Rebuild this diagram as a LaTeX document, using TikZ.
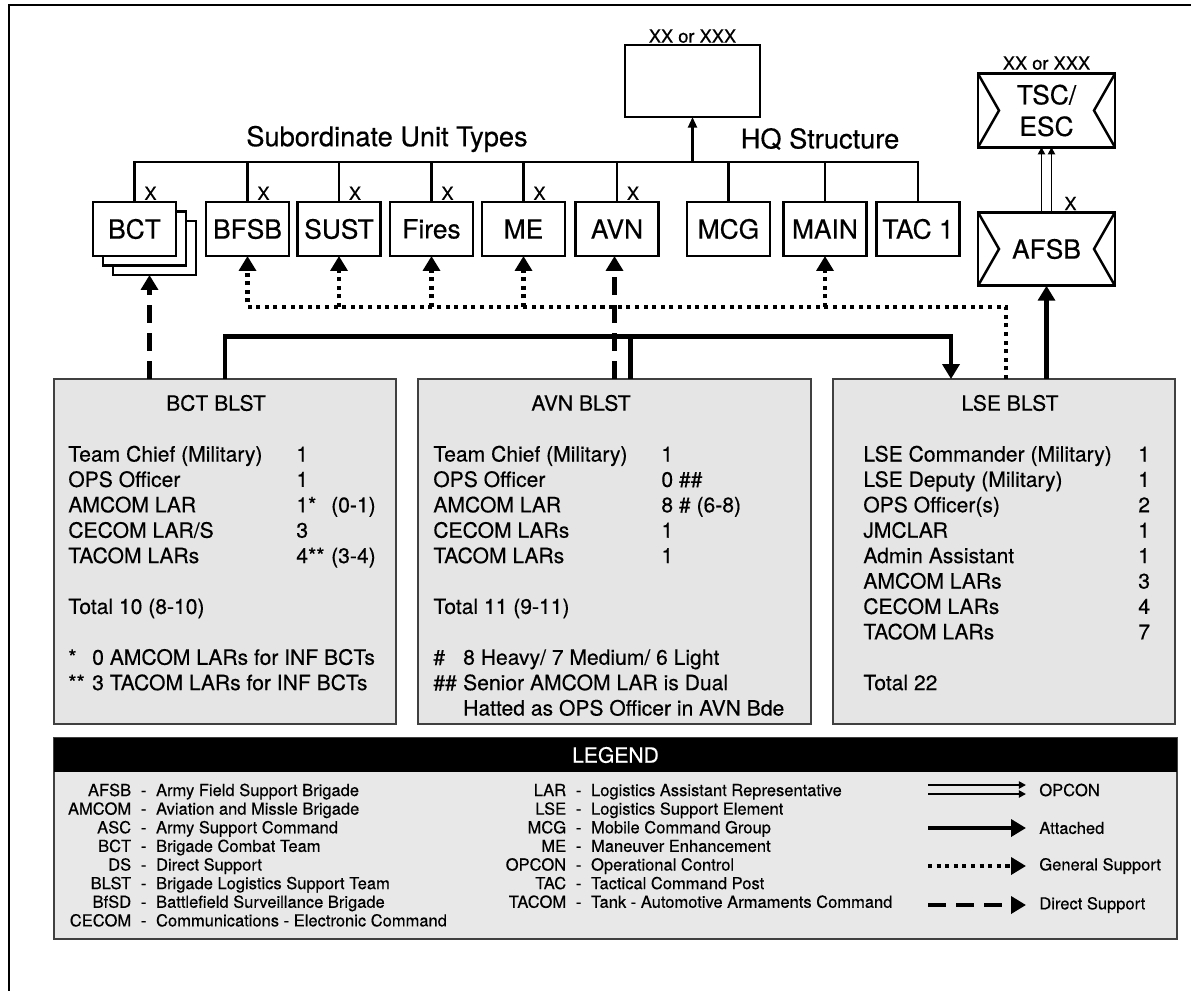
\documentclass[tikz,border=0pt]{standalone}
\usepackage{fontspec}
\setmainfont{TeX Gyre Heros}[FakeBold=0.4]
\usetikzlibrary{arrows.meta}

\newcommand{\legrow}[2]{\makebox[40.3pt][r]{#1}\makebox[14.2pt][c]{-}#2}

\begin{document}
\begin{tikzpicture}[x=0.02cm,y=-0.02cm,
  unit/.style={draw,line width=1.5pt,fill=white,outer sep=0pt,inner sep=0pt,minimum width=1.66cm,minimum height=1.08cm,font=\fontsize{15}{18}\selectfont},
  cmd/.style={unit,minimum width=2.74cm,minimum height=1.47cm,align=center},
  ech/.style={inner sep=1pt,font=\fontsize{10.4}{12}\selectfont},
  head/.style={inner sep=0pt,font=\fontsize{15.5}{18}\selectfont},
  blst/.style={draw=black!75,line width=0.9pt,fill=black!10,outer sep=0pt,minimum width=6.84cm,minimum height=6.9cm},
  blsttext/.style={inner sep=0pt,font=\fontsize{12}{14.46}\selectfont},
  legtext/.style={inner sep=0pt,font=\fontsize{9.4}{10.6}\selectfont},
  org/.style={line width=1.4pt},
  tip/.style={-{Triangle[width=9.6pt,length=8.5pt]}},
  attached/.style={line width=2.8pt},
  gensup/.style={line width=2.3pt,dash pattern=on 2.3pt off 2.6pt},
  direct/.style={line width=2.6pt,dash pattern=on 10pt off 6pt},
  opcon/.style={line width=1.1pt,-{Triangle[width=4pt,length=4pt]}}
]
\useasboundingbox (0,0) rectangle (1191,991);
\draw[line width=1.2pt] (9,1000) -- (9,5) -- (1200,5);

\node[unit,minimum width=2.7cm,minimum height=1.44cm] (hq) at (692.5,81) {};
\node[ech,anchor=south] (hqech) at (hq.north) {XX or XXX};
\node[head] (subtypes) at (387,139) {Subordinate Unit Types};
\node[head] (hqstruct) at (820,139) {HQ Structure};

\node[unit] (bct3) at (154.5,248) {};
\node[unit] (bct2) at (144.5,238.5) {};
\node[unit] (bct) at (134.5,229) {BCT};
\foreach \nd/\px/\lbl in {bfsb/247.5/BFSB, sust/339/SUST, fires/431.5/Fires, me/523.5/ME, avn/617/AVN, mcg/728.5/MCG, main/825/MAIN, tac/918/TAC 1}
  \node[unit] (\nd) at (\px,229) {\lbl};
\foreach \nd in {bct,bfsb,sust,fires,me,avn}
  \node[ech,anchor=south] (\nd-x) at ([xshift=0.32cm]\nd.north) {X};

\coordinate (bus) at (0,162);
\draw[org] (bct.north) -- (bct.north |- bus) -- (tac.north |- bus) -- (tac.north);
\foreach \nd in {bfsb,sust,fires,me,avn,mcg,main}
  \draw[org] (\nd.north) -- (\nd.north |- bus);
\draw[org,-{Triangle[width=5pt,length=6pt]}] (hq.south |- bus) -- (hq.south);

\node[cmd] (tsc) at (1046.5,110.5) {TSC/\\ESC};
\node[ech,anchor=south] (tscech) at ([yshift=1pt]tsc.north) {XX or XXX};
\node[cmd] (afsb) at (1046.5,249) {AFSB};
\node[ech,anchor=south] (afsbx) at ([xshift=0.48cm]afsb.north) {X};
\foreach \nd in {tsc,afsb} {
  \draw[org] (\nd.north west) -- ([xshift=0.42cm]\nd.west) -- (\nd.south west);
  \draw[org] (\nd.north east) -- ([xshift=-0.42cm]\nd.east) -- (\nd.south east);
}
\draw[opcon] ([xshift=-0.1cm]afsb.north) -- ([xshift=-0.1cm]tsc.south);
\draw[opcon] ([xshift=0.1cm]afsb.north) -- ([xshift=0.1cm]tsc.south);

\node[blst] (bctblst) at (225,551.5) {};
\node[blst,minimum width=7.86cm] (avnblst) at (614.5,551.5) {};
\node[blst] (lseblst) at (1004,551.5) {};
\node[blsttext] (bcttitle) at (216,403) {BCT BLST};
\node[blsttext] (avntitle) at (581,403) {AVN BLST};
\node[blsttext] (lsetitle) at (1010,403) {LSE BLST};

\node[blsttext,anchor=base west] (bctrows) at (68,461.5) {\begin{tabular}[t]{@{}p{129.8pt}@{}p{19.8pt}@{}l@{}}
Team Chief (Military) & 1 & \\
OPS Officer & 1 & \\
AMCOM LAR & 1* & (0-1)\\
CECOM LAR/S & 3 & \\
TACOM LARs & 4** & (3-4)\\
\\
\multicolumn{3}{@{}l}{Total 10 (8-10)}\\
\\
\multicolumn{3}{@{}l}{\makebox[13.6pt][l]{*}0 AMCOM LARs for INF BCTs}\\
\multicolumn{3}{@{}l}{\makebox[13.6pt][l]{**}3 TACOM LARs for INF BCTs}
\end{tabular}};

\node[blsttext,anchor=base west] (avnrows) at (433,461.5) {\begin{tabular}[t]{@{}p{129.8pt}@{}l@{}}
Team Chief (Military) & 1\\
OPS Officer & 0 \#\#\\
AMCOM LAR & 8 \# (6-8)\\
CECOM LARs & 1\\
TACOM LARs & 1\\
\\
\multicolumn{2}{@{}l}{Total 11 (9-11)}\\
\\
\multicolumn{2}{@{}l}{\makebox[17pt][l]{\#}8 Heavy/ 7 Medium/ 6 Light}\\
\multicolumn{2}{@{}l}{\makebox[17pt][l]{\#\#}Senior AMCOM LAR is Dual}\\
\multicolumn{2}{@{}l}{\hspace{17pt}Hatted as OPS Officer in AVN Bde}
\end{tabular}};

\node[blsttext,anchor=base west] (lserows) at (863,461.5) {\begin{tabular}[t]{@{}p{156.5pt}@{}l@{}}
LSE Commander (Military) & 1\\
LSE Deputy (Military) & 1\\
OPS Officer(s) & 2\\
JMCLAR & 1\\
Admin Assistant & 1\\
AMCOM LARs & 3\\
CECOM LARs & 4\\
TACOM LARs & 7\\
\\
\multicolumn{2}{@{}l}{Total 22}
\end{tabular}};

\coordinate (gs) at (0,307);
\draw[gensup,tip] ([xshift=0.04cm]lseblst.north) |- (gs -| bfsb.south) -- (bfsb.south);
\foreach \nd in {sust,fires,me,main}
  \draw[gensup,tip] (gs -| \nd.south) -- (\nd.south);
\draw[attached,tip] (bctblst.north) -- ++(0,-43) -| ([xshift=-1.06cm]lseblst.north);
\draw[attached] ([xshift=0.32cm]avnblst.north) -- ++(0,-45);
\draw[attached,tip] (afsb.south |- lseblst.north) -- (afsb.south);
\draw[direct,tip] ([xshift=-0.1cm]bct3.south |- bctblst.north) -- ([xshift=-0.1cm]bct3.south);
\draw[direct,tip] (avnblst.north) -- (avnblst.north |- avn.south);

\node[draw=black!75,line width=0.9pt,fill=black!9,outer sep=0pt,minimum width=22.46cm,minimum height=4.02cm] (legend) at (615.5,838.5) {};
\node[fill=black,outer sep=0pt,minimum width=22.46cm,minimum height=0.68cm,text=white,font=\fontsize{12}{14}\selectfont,anchor=north] (legendhead) at (legend.north) {LEGEND};

\node[legtext,anchor=base west] (legleft) at (60,796) {\begin{tabular}[t]{@{}l@{}}
\legrow{AFSB}{Army Field Support Brigade}\\
\legrow{AMCOM}{Aviation and Missle Brigade}\\
\legrow{ASC}{Army Support Command}\\
\legrow{BCT}{Brigade Combat Team}\\
\legrow{DS}{Direct Support}\\
\legrow{BLST}{Brigade Logistics Support Team}\\
\legrow{BfSD}{Battlefield Surveillance Brigade}\\
\legrow{CECOM}{Communications - Electronic Command}
\end{tabular}};
\node[legtext,anchor=base west] (legmid) at (495,796) {\begin{tabular}[t]{@{}l@{}}
\legrow{LAR}{Logistics Assistant Representative}\\
\legrow{LSE}{Logistics Support Element}\\
\legrow{MCG}{Mobile Command Group}\\
\legrow{ME}{Maneuver Enhancement}\\
\legrow{OPCON}{Operational Control}\\
\legrow{TAC}{Tactical Command Post}\\
\legrow{TACOM}{Tank - Automotive Armaments Command}
\end{tabular}};

\draw[opcon] (928,785) -- (1026,785);
\draw[opcon] (928,794) -- (1026,794);
\node[legtext,anchor=west] (keyopcon) at (1039,790) {OPCON};
\foreach \st/\py/\lbl in {attached/828/Attached, gensup/866/General Support, direct/905/Direct Support} {
  \draw[\st,tip] (928,\py) -- (1026,\py);
  \node[legtext,anchor=west] (key\st) at (1039,\py) {\lbl};
}
\end{tikzpicture}
\end{document}
